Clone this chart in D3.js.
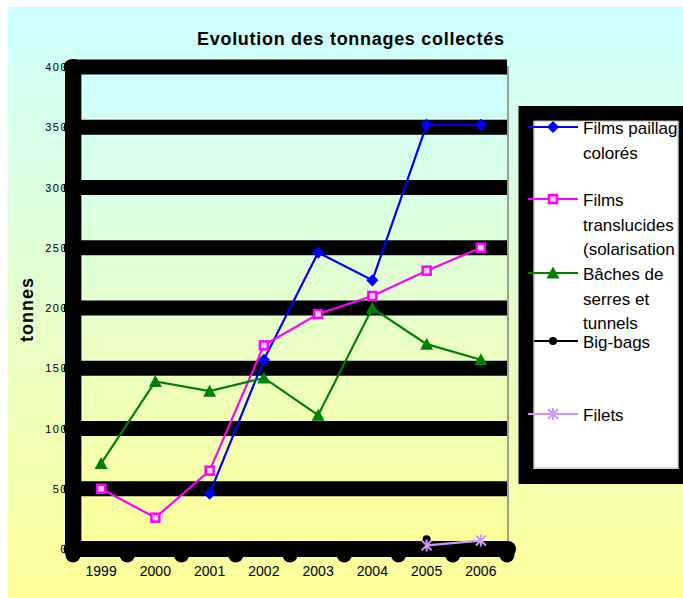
<!DOCTYPE html>
<html>
<head>
<meta charset="utf-8">
<script src="https://cdn.jsdelivr.net/npm/d3@7"></script>
<style>
    body { margin: 0; background: #ffffff; }
    text { font-family: "Liberation Sans", Arial, sans-serif; }
</style>
</head>
<body>
<div id="chart"></div>
<script>
// data
var years = ["1999", "2000", "2001", "2002", "2003", "2004", "2005", "2006"];
var yTicks = [0, 50, 100, 150, 200, 250, 300, 350, 400];
var filmsPaillage = [null, null, 46, 157, 246, 223, 352, 352];
var filmsTranslucides = [50, 26, 65, 169, 195, 210, 231, 250];
var baches = [71, 139, 131, 142, 111, 200, 170, 157];
var bigBags = [null, null, null, null, null, null, 8, null];
var filets = [null, null, null, null, null, null, 3, 7];
var seriesNames = [
    ["Films paillag", "colorés"],
    ["Films", "translucides", "(solarisation"],
    ["Bâches de", "serres et", "tunnels"],
    ["Big-bags"],
    ["Filets"]
];

var series = [
    { name: seriesNames[0], values: filmsPaillage, color: "#0000ff", marker: "diamond" },
    { name: seriesNames[1], values: filmsTranslucides, color: "#ff00ff", marker: "square" },
    { name: seriesNames[2], values: baches, color: "#008000", marker: "triangle" },
    { name: seriesNames[3], values: bigBags, color: "#000000", marker: "circle" },
    { name: seriesNames[4], values: filets, color: "#cc99ff", marker: "star" }
];

var W = 683, H = 598;
var plot = { left: 74, right: 508, top: 67, bottom: 549 };

var svg = d3.select("#chart").append("svg")
    .attr("width", W)
    .attr("height", H);

var defs = svg.append("defs");
function addGradient(id, y1, y2) {
    var g = defs.append("linearGradient")
        .attr("id", id)
        .attr("gradientUnits", "userSpaceOnUse")
        .attr("x1", 0).attr("x2", 0)
        .attr("y1", y1).attr("y2", y2);
    g.append("stop").attr("offset", "0%").attr("stop-color", "#ccffff");
    g.append("stop").attr("offset", "100%").attr("stop-color", "#ffff99");
}
addGradient("bgGrad", 7, H);
addGradient("plotGrad", plot.top, plot.bottom);

defs.append("clipPath").attr("id", "legendClip")
    .append("rect")
    .attr("x", 534).attr("y", 120)
    .attr("width", 144).attr("height", 348);

// chart background
svg.append("rect")
    .attr("x", 8).attr("y", 7)
    .attr("width", W - 8).attr("height", H - 7)
    .attr("fill", "url(#bgGrad)");

// scales
var x = d3.scaleBand()
    .domain(years)
    .range([plot.left, plot.right]);

var y = d3.scaleLinear()
    .domain([0, 400])
    .range([plot.bottom, plot.top]);

// plot area
svg.append("rect")
    .attr("x", x.range()[0] + 7)
    .attr("y", y(400))
    .attr("width", x.range()[1] - x.range()[0] - 7)
    .attr("height", y(0) - y(400))
    .attr("fill", "url(#plotGrad)")
    .attr("stroke", "#808080")
    .attr("stroke-width", 1.5);

// tick labels (drawn under the thick axis lines)
var yAxisCall = d3.axisLeft(y)
    .tickValues(yTicks)
    .tickSize(0)
    .tickPadding(5);
var yAxis = svg.append("g")
    .attr("transform", "translate(" + (plot.left - 1) + ",0)")
    .call(yAxisCall);
yAxis.select(".domain").remove();
yAxis.selectAll("text")
    .attr("font-size", "11px")
    .attr("letter-spacing", "1.5px")
    .attr("fill", "#000");

var xAxisCall = d3.axisBottom(x)
    .tickSize(0)
    .tickPadding(17);
var xAxis = svg.append("g")
    .attr("transform", "translate(0," + plot.bottom + ")")
    .call(xAxisCall);
xAxis.select(".domain").remove();
xAxis.selectAll("text")
    .attr("font-size", "14px")
    .attr("fill", "#000");

// heavy gridlines
svg.append("g").selectAll("line")
    .data(yTicks.filter(function (d) { return d > 0; }))
    .enter()
    .append("line")
    .attr("x1", plot.left - 1)
    .attr("x2", plot.right - 1)
    .attr("y1", function (d) { return y(d); })
    .attr("y2", function (d) { return y(d); })
    .attr("stroke", "#000")
    .attr("stroke-width", 15);

// y axis line + ticks
svg.append("line")
    .attr("x1", plot.left - 1).attr("x2", plot.left - 1)
    .attr("y1", y(400)).attr("y2", y(0))
    .attr("stroke", "#000")
    .attr("stroke-width", 16)
    .attr("stroke-linecap", "round");
svg.append("g").selectAll("line")
    .data(yTicks)
    .enter()
    .append("line")
    .attr("x1", plot.left - 1)
    .attr("x2", plot.left - 3)
    .attr("y1", function (d) { return y(d); })
    .attr("y2", function (d) { return y(d); })
    .attr("stroke", "#000")
    .attr("stroke-width", 15)
    .attr("stroke-linecap", "round");

// x axis line + ticks at category edges
var edges = years.map(function (d) { return x(d); }).concat([x.range()[1]]);
svg.append("line")
    .attr("x1", plot.left - 1).attr("x2", plot.right)
    .attr("y1", y(0)).attr("y2", y(0))
    .attr("stroke", "#000")
    .attr("stroke-width", 16)
    .attr("stroke-linecap", "round");
svg.append("g").selectAll("line")
    .data(edges)
    .enter()
    .append("line")
    .attr("x1", function (d) { return d - 1; })
    .attr("x2", function (d) { return d - 1; })
    .attr("y1", y(0))
    .attr("y2", y(0) + 6)
    .attr("stroke", "#000")
    .attr("stroke-width", 15)
    .attr("stroke-linecap", "round");

// markers
function drawMarker(g, type, color) {
    if (type === "diamond") {
        g.append("path")
            .attr("d", d3.symbol().type(d3.symbolSquare).size(75)())
            .attr("transform", "rotate(45)")
            .attr("fill", color);
    } else if (type === "square") {
        g.append("rect")
            .attr("x", -4).attr("y", -4)
            .attr("width", 8).attr("height", 8)
            .attr("fill", "#ffccff")
            .attr("stroke", color)
            .attr("stroke-width", 2.5);
    } else if (type === "triangle") {
        g.append("path")
            .attr("d", "M0,-6.5L6.5,5.5L-6.5,5.5Z")
            .attr("fill", color);
    } else if (type === "circle") {
        g.append("circle")
            .attr("r", 4)
            .attr("fill", color);
    } else if (type === "star") {
        g.append("path")
            .attr("d", "M-5,-5L5,5M-5,5L5,-5M0,-6L0,6")
            .attr("stroke", color)
            .attr("stroke-width", 2)
            .attr("fill", "none");
    }
}

var line = d3.line()
    .defined(function (d) { return d.v != null; })
    .x(function (d) { return x(d.year) + x.bandwidth() / 2; })
    .y(function (d) { return y(d.v); });

series.forEach(function (s) {
    var pts = s.values.map(function (v, i) { return { year: years[i], v: v }; });
    svg.append("path")
        .datum(pts)
        .attr("d", line)
        .attr("fill", "none")
        .attr("stroke", s.color)
        .attr("stroke-width", 2.2);
    svg.append("g").selectAll("g")
        .data(pts.filter(function (d) { return d.v != null; }))
        .enter()
        .append("g")
        .attr("transform", function (d) {
            return "translate(" + (x(d.year) + x.bandwidth() / 2) + "," + y(d.v) + ")";
        })
        .each(function () { drawMarker(d3.select(this), s.marker, s.color); });
});

// legend box
svg.append("rect")
    .attr("x", 526).attr("y", 113.5)
    .attr("width", 160).attr("height", 363)
    .attr("fill", "#ffffff")
    .attr("stroke", "#000")
    .attr("stroke-width", 15);
svg.append("rect")
    .attr("x", 534).attr("y", 121)
    .attr("width", 144).attr("height", 347)
    .attr("fill", "none")
    .attr("stroke", "#aaaaaa")
    .attr("stroke-width", 1);

var legendY = [127, 199, 273, 341, 414];
var legend = svg.append("g");
series.forEach(function (s, i) {
    var ly = legendY[i];
    legend.append("line")
        .attr("x1", i === 3 ? 534 : 528).attr("x2", 578)
        .attr("y1", ly).attr("y2", ly)
        .attr("stroke", s.color)
        .attr("stroke-width", 2.2);
    drawMarker(legend.append("g").attr("transform", "translate(553," + ly + ")"), s.marker, s.color);
    legend.append("text")
        .attr("clip-path", "url(#legendClip)")
        .attr("x", 583)
        .attr("y", ly + 7)
        .attr("font-size", "17px")
        .attr("fill", "#000")
        .selectAll("tspan")
        .data(s.name)
        .enter()
        .append("tspan")
        .attr("x", 583)
        .attr("dy", function (d, j) { return j === 0 ? 0 : 24.5; })
        .text(function (d) { return d; });
});

// title
svg.append("text")
    .attr("x", 350.5)
    .attr("y", 45)
    .attr("text-anchor", "middle")
    .attr("font-size", "18px")
    .attr("font-weight", "bold")
    .attr("textLength", 307)
    .attr("lengthAdjust", "spacing")
    .text("Evolution des tonnages collectés");

// Y label
svg.append("text")
    .attr("x", -310)
    .attr("y", 33)
    .attr("text-anchor", "middle")
    .attr("transform", "rotate(-90)")
    .attr("font-size", "18px")
    .attr("font-weight", "bold")
    .attr("textLength", 64)
    .attr("lengthAdjust", "spacing")
    .text("tonnes");
</script>
</body>
</html>
